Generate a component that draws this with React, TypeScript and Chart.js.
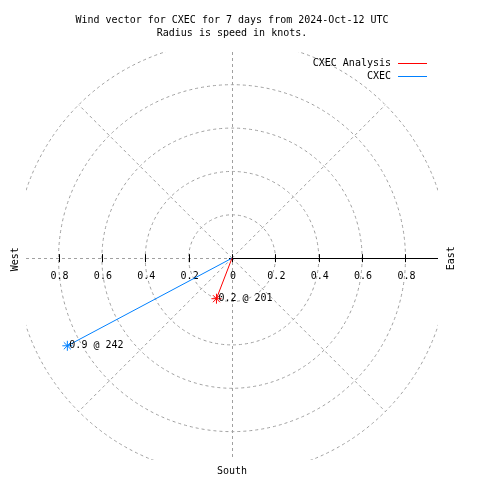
import React, { useEffect, useRef } from "react";
import { Chart, registerables } from "chart.js";

Chart.register(...registerables);

// ---- data ----
const titleLines = ["Wind vector for CXEC for 7 days from 2024-Oct-12 UTC", "Radius is speed in knots."];
const seriesNames = ["CXEC Analysis", "CXEC"];
const speeds = [0.2, 0.86]; // knots
const directions = [201, 242]; // degrees
const ringValues = [0.2, 0.4, 0.6, 0.8, 1.0];
const tickValues = [-0.8, -0.6, -0.4, -0.2, 0, 0.2, 0.4, 0.6, 0.8];
const tickLabels = ["0.8", "0.6", "0.4", "0.2", "0", "0.2", "0.4", "0.6", "0.8"];
const compassLabels = ["West", "East", "South"];

const seriesColors = ["#ff0000", "rgb(0,128,255)"];
const FONT = '10px "DejaVu Sans Mono", "Liberation Mono", monospace';
const GRID = "#a0a0a0";

export default function App() {
  const ref = useRef<HTMLCanvasElement | null>(null);

  useEffect(() => {
    const canvas = ref.current;
    if (!canvas) return;

    const datasets = speeds.map((s, i) => {
      const rad = (directions[i] * Math.PI) / 180;
      return {
        label: seriesNames[i],
        data: [
          { x: 0, y: 0 },
          { x: s * Math.sin(rad), y: s * Math.cos(rad) },
        ],
        showLine: true,
        borderColor: seriesColors[i],
        backgroundColor: seriesColors[i],
        borderWidth: 1,
        pointStyle: "star",
        pointRadius: [0, 5],
        pointBorderWidth: 1,
        pointBorderColor: seriesColors[i],
      };
    });

    const polarPlugin = {
      id: "polarGrid",
      beforeDatasetsDraw(chart: any) {
        const { ctx, chartArea: a, scales } = chart;
        const xs = scales.x, ys = scales.y;
        const cx = xs.getPixelForValue(0);
        const cy = ys.getPixelForValue(0);
        const unit = xs.getPixelForValue(1) - cx;
        ctx.save();
        ctx.beginPath();
        ctx.rect(a.left, a.top, a.right - a.left, a.bottom - a.top);
        ctx.clip();
        ctx.strokeStyle = GRID;
        ctx.lineWidth = 1;
        ctx.setLineDash([3, 3]);
        ringValues.forEach((r) => {
          ctx.beginPath();
          ctx.arc(cx, cy, r * unit, 0, Math.PI * 2);
          ctx.stroke();
        });
        const rmax = ringValues[ringValues.length - 1];
        [45, 135, 225, 315].forEach((deg) => {
          const t = (deg * Math.PI) / 180;
          ctx.beginPath();
          ctx.moveTo(cx, cy);
          ctx.lineTo(cx + rmax * unit * Math.sin(t), cy - rmax * unit * Math.cos(t));
          ctx.stroke();
        });
        // vertical
        ctx.beginPath();
        ctx.moveTo(Math.round(cx) + 0.5, a.top);
        ctx.lineTo(Math.round(cx) + 0.5, a.bottom);
        ctx.stroke();
        // horizontal west part
        ctx.beginPath();
        ctx.moveTo(a.left, Math.round(cy) + 0.5);
        ctx.lineTo(cx, Math.round(cy) + 0.5);
        ctx.stroke();
        ctx.restore();

        // solid east axis
        ctx.save();
        ctx.strokeStyle = "#000";
        ctx.lineWidth = 1;
        ctx.beginPath();
        ctx.moveTo(cx, Math.round(cy) + 0.5);
        ctx.lineTo(a.right, Math.round(cy) + 0.5);
        ctx.stroke();
        // ticks
        tickValues.forEach((v) => {
          const px = Math.round(xs.getPixelForValue(v)) + 0.5;
          ctx.beginPath();
          ctx.moveTo(px, cy - 4);
          ctx.lineTo(px, cy + 4);
          ctx.stroke();
        });
        ctx.beginPath();
        ctx.moveTo(cx - 3, Math.round(cy) + 0.5);
        ctx.lineTo(cx + 3, Math.round(cy) + 0.5);
        ctx.stroke();
        // tick labels
        ctx.fillStyle = "#000";
        ctx.font = FONT;
        ctx.textAlign = "center";
        ctx.textBaseline = "middle";
        tickValues.forEach((v, i) => {
          ctx.fillText(tickLabels[i], xs.getPixelForValue(v) + 1, cy + 18);
        });
        ctx.restore();
      },
      afterDatasetsDraw(chart: any) {
        const { ctx, scales } = chart;
        ctx.save();
        ctx.font = FONT;
        ctx.fillStyle = "#000";
        ctx.textAlign = "left";
        ctx.textBaseline = "middle";
        speeds.forEach((s, i) => {
          const p = chart.data.datasets[i].data[1];
          const px = scales.x.getPixelForValue(p.x);
          const py = scales.y.getPixelForValue(p.y);
          ctx.fillText(`${s.toFixed(1)} @ ${directions[i]}`, px + 2, py);
        });
        ctx.restore();
      },
      afterDraw(chart: any) {
        const { ctx, scales } = chart;
        const cx = scales.x.getPixelForValue(0);
        const cy = scales.y.getPixelForValue(0);
        ctx.save();
        ctx.font = FONT;
        ctx.fillStyle = "#000";
        ctx.textBaseline = "middle";
        ctx.textAlign = "center";
        ctx.fillText(titleLines[0], 232, 20);
        ctx.fillText(titleLines[1], 232, 33);
        // legend
        ctx.textAlign = "right";
        seriesNames.forEach((n, i) => {
          const y = 63 + i * 13;
          ctx.fillStyle = "#000";
          ctx.fillText(n, 391, y);
          ctx.strokeStyle = seriesColors[i];
          ctx.lineWidth = 1;
          ctx.beginPath();
          ctx.moveTo(398, y + 0.5);
          ctx.lineTo(427, y + 0.5);
          ctx.stroke();
        });
        // compass labels
        ctx.fillStyle = "#000";
        ctx.textAlign = "center";
        ctx.fillText(compassLabels[2], cx, 471);
        ctx.save();
        ctx.translate(15, cy + 1);
        ctx.rotate(-Math.PI / 2);
        ctx.fillText(compassLabels[0], 0, 0);
        ctx.restore();
        ctx.save();
        ctx.translate(451, cy);
        ctx.rotate(-Math.PI / 2);
        ctx.fillText(compassLabels[1], 0, 0);
        ctx.restore();
        ctx.restore();
      },
    };

    const chart = new Chart(canvas, {
      type: "scatter",
      data: { datasets: datasets as any },
      options: {
        animation: false,
        responsive: false,
        devicePixelRatio: 1,
        layout: { padding: { left: 26, right: 42, top: 52, bottom: 20 } },
        scales: {
          x: { type: "linear", min: -0.95, max: 0.95, display: false },
          y: { type: "linear", min: -0.93, max: 0.95, display: false },
        },
        plugins: {
          legend: { display: false },
          title: { display: false },
          tooltip: { enabled: false },
        },
      },
      plugins: [polarPlugin],
    });
    return () => chart.destroy();
  }, []);

  return (
    <div style={{ position: "fixed", left: 0, top: 0, width: 480, height: 480, background: "#fff" }}>
      <canvas ref={ref} width={480} height={480} />
    </div>
  );
}
